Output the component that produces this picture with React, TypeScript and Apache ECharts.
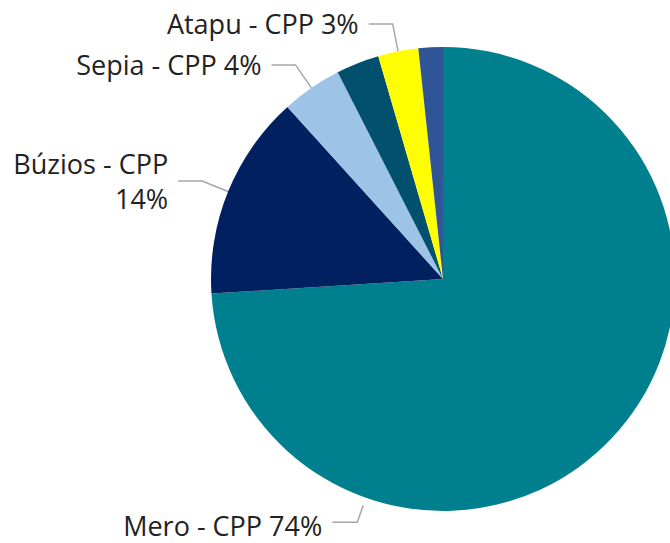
import React, { useEffect, useRef } from "react";
import * as echarts from "echarts";

const categories = ["Mero - CPP", "Búzios - CPP", "Sepia - CPP", "Outro 1", "Atapu - CPP", "Outro 2"];
const values = [74.0, 14.3, 4.2, 3.0, 2.8, 1.7];
const colors = ["#00808F", "#00205F", "#9DC3E6", "#00506E", "#FFFF00", "#2F5597"];
const showLabel = [true, true, true, false, true, false];

const CX = 443;
const CY = 279;
const R = 232;
const FONT = 27;

export default function App() {
  const ref = useRef<HTMLDivElement>(null);
  useEffect(() => {
    document.body.style.margin = "0";
    const chart = echarts.init(ref.current!, null, { renderer: "svg" });
    const data = categories.map((name, i) => ({
      name,
      value: values[i],
      itemStyle: { color: colors[i] },
      label: { show: showLabel[i] },
      labelLine: { show: showLabel[i] },
    }));
    chart.setOption({
      animation: false,
      backgroundColor: "#ffffff",
      series: [
        {
          type: "pie",
          center: [CX, CY],
          radius: [0, R],
          startAngle: 90,
          clockwise: true,
          avoidLabelOverlap: false,
          data,
          itemStyle: { borderWidth: 0 },
          label: {
            show: true,
            position: "outside",
            fontFamily: "Open Sans",
            fontSize: FONT,
            color: "#222222",
            lineHeight: 30,
            distanceToLabelLine: 10,
            formatter: (p: any) =>
              p.dataIndex === 1 ? `{a|${p.name}}\n{a|${Math.round(p.percent)}%}` : `${p.name} ${Math.round(p.percent)}%`,
            rich: {
              a: { fontFamily: "Open Sans", fontSize: FONT, color: "#222222", lineHeight: 35, align: "right" },
            },
          },
          labelLine: {
            show: true,
            length: 28,
            length2: 24,
            lineStyle: { color: "#A6A6A6", width: 1.5 },
          },
          labelLayout: (params: any) => {
            if (params.dataIndex !== 0) return {};
            const a = (199.4 * Math.PI) / 180;
            const r0 = R + 8;
            const p0 = [CX + r0 * Math.sin(a), CY - r0 * Math.cos(a)];
            const p1 = [p0[0] + 18 * Math.sin(a), p0[1] - 18 * Math.cos(a)];
            const p2 = [p1[0] - 25, p1[1]];
            return {
              x: p2[0] - 10,
              y: p2[1] + 3,
              align: "right",
              verticalAlign: "middle",
              labelLinePoints: [p0, p1, p2],
            };
          },
        },
      ],
    });
    return () => chart.dispose();
  }, []);
  return <div ref={ref} style={{ width: 670, height: 543 }} />;
}
